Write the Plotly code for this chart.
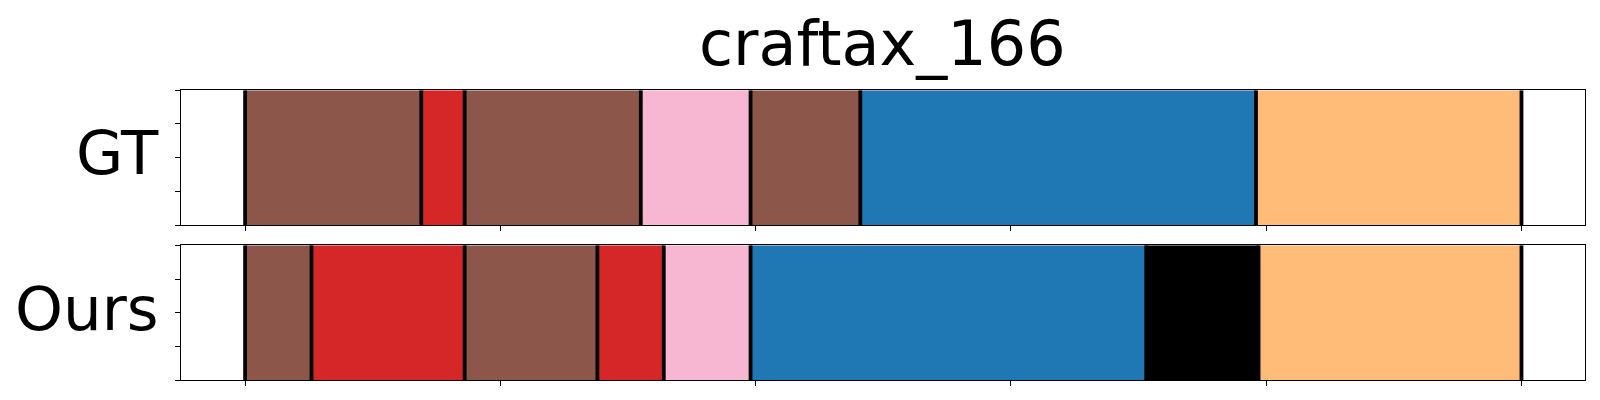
import plotly.graph_objects as go

# ---- data ----
total_len = 250
tick_vals = [0, 50, 100, 150, 200, 250]
y_ticks = [0, 0.25, 0.5, 0.75, 1.0]

gt_starts = [0, 34.5, 43, 77.5, 99, 120.5, 198]
gt_ends = [34.5, 43, 77.5, 99, 120.5, 198, 250]
gt_colors = ["#8c564b", "#d62728", "#8c564b", "#f7b6d2", "#8c564b", "#1f77b4", "#ffbb78"]

ours_starts = [0, 13, 43, 69, 82, 99, 176.5, 198.5]
ours_ends = [13, 43, 69, 82, 99, 176.5, 198.5, 250]
ours_colors = ["#8c564b", "#d62728", "#8c564b", "#d62728", "#f7b6d2", "#1f77b4", "#000000", "#ffbb78"]

title_text = "craftax_166"
row_labels = ["GT", "Ours"]

# page body has an 8px default margin; lay out in reference pixel coords minus 8
OFF = 8
W, H = 1600 - OFF, 400 - OFF
FONT = "DejaVu Sans"

def px(x):
    return (x - OFF) / W

def py(y):
    return 1 - (y - OFF) / H

fig = go.Figure()

def add_panel(starts, ends, colors, xa, ya):
    widths = [e - s for s, e in zip(starts, ends)]
    fig.add_trace(go.Bar(
        x=widths, base=starts, y=[0.5] * len(starts), width=[1] * len(starts),
        orientation="h", marker=dict(color=colors, line=dict(width=0)),
        xaxis=xa, yaxis=ya, showlegend=False, hoverinfo="skip"))
    bounds = list(starts) + [ends[-1]]
    lx, ly = [], []
    for b in bounds:
        lx += [b, b, None]
        ly += [0, 1, None]
    fig.add_trace(go.Scatter(x=lx, y=ly, mode="lines",
                             line=dict(color="black", width=3.8),
                             xaxis=xa, yaxis=ya, showlegend=False, hoverinfo="skip"))

add_panel(gt_starts, gt_ends, gt_colors, "x", "y")
add_panel(ours_starts, ours_ends, ours_colors, "x2", "y2")

pad = 0.05 * total_len
xcommon = dict(range=[-pad, total_len + pad], tickvals=tick_vals, showticklabels=False,
               ticks="outside", ticklen=5, tickwidth=1, tickcolor="black",
               showline=True, linecolor="black", linewidth=1.1, mirror=True,
               showgrid=False, zeroline=False, domain=[px(181.3), px(1585.3)], fixedrange=True)
ycommon = dict(range=[0, 1], tickvals=y_ticks, showticklabels=False,
               ticks="outside", ticklen=5, tickwidth=1, tickcolor="black",
               showline=True, linecolor="black", linewidth=1.1, mirror=True,
               showgrid=False, zeroline=False, fixedrange=True)

fig.update_layout(
    width=W, height=H, margin=dict(l=0, r=0, t=0, b=0),
    paper_bgcolor="white", plot_bgcolor="white", barmode="overlay",
    xaxis=dict(**xcommon, anchor="y"),
    yaxis=dict(**ycommon, domain=[py(225), py(90.3)], anchor="x"),
    xaxis2=dict(**xcommon, anchor="y2"),
    yaxis2=dict(**ycommon, domain=[py(380.3), py(245.3)], anchor="x2"),
    font=dict(family=FONT, color="black"),
)

annots = [
    dict(text=title_text, x=px(882), y=py(43), xref="paper", yref="paper",
         xanchor="center", yanchor="middle", showarrow=False, font=dict(size=62, family=FONT)),
    dict(text=row_labels[0], x=px(161), y=py(152.5), xref="paper", yref="paper",
         xanchor="right", yanchor="middle", showarrow=False, font=dict(size=61, family=FONT)),
    dict(text=row_labels[1], x=px(161), y=py(308), xref="paper", yref="paper",
         xanchor="right", yanchor="middle", showarrow=False, font=dict(size=61, family=FONT)),
]
fig.update_layout(annotations=annots)

fig.write_html("out.html")
